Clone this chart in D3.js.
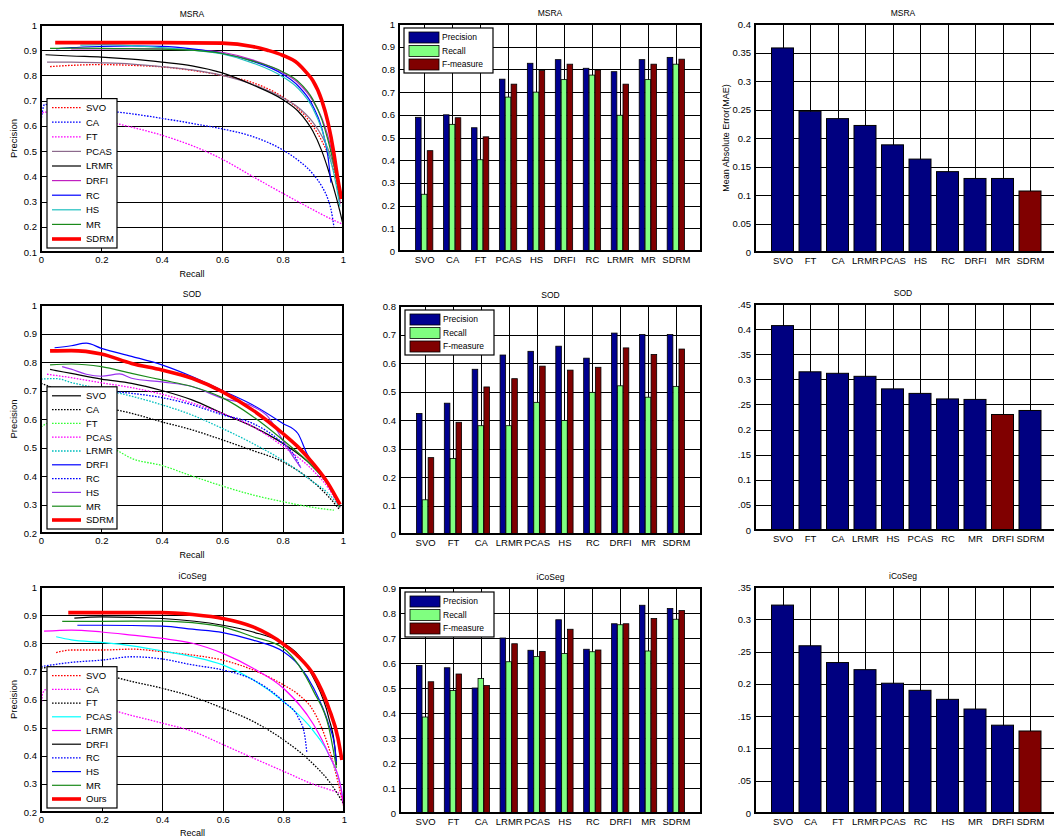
<!DOCTYPE html>
<html>
<head>
<meta charset="utf-8">
<script src="https://cdn.jsdelivr.net/npm/d3@7/dist/d3.min.js"></script>
<style>
body { margin: 0; background: #fff; }
text { font-family: "Liberation Sans", Arial, Helvetica, sans-serif; fill: #000; }
</style>
</head>
<body>
<svg id="fig" width="1054" height="838"></svg>
<script>

//==================================== data ====================================

// PR curves, [recall, precision] pairs
var msraNames = ["SVO", "CA", "FT", "PCAS", "LRMR", "DRFI", "RC", "HS", "MR", "SDRM"];
var msraSVO  = [[0.03,0.835],[0.1,0.84],[0.2,0.843],[0.3,0.84],[0.4,0.834],[0.5,0.82],[0.6,0.80],[0.7,0.772],[0.8,0.715],[0.85,0.67],[0.9,0.60],[0.93,0.54],[0.95,0.49],[0.97,0.42],[0.98,0.37],[0.99,0.29]];
var msraCA   = [[0.0,0.62],[0.005,0.66],[0.012,0.685],[0.05,0.68],[0.1,0.675],[0.2,0.662],[0.3,0.648],[0.4,0.63],[0.5,0.61],[0.6,0.588],[0.7,0.558],[0.8,0.505],[0.85,0.465],[0.9,0.41],[0.93,0.36],[0.95,0.31],[0.96,0.27],[0.97,0.2]];
var msraFT   = [[0.0,0.64],[0.01,0.655],[0.1,0.64],[0.2,0.622],[0.3,0.595],[0.4,0.563],[0.5,0.522],[0.6,0.468],[0.7,0.40],[0.8,0.333],[0.9,0.268],[0.95,0.237],[0.99,0.215],[1.0,0.21]];
var msraPCAS = [[0.02,0.853],[0.1,0.853],[0.2,0.85],[0.3,0.845],[0.4,0.835],[0.5,0.822],[0.6,0.80],[0.7,0.765],[0.8,0.712],[0.85,0.675],[0.9,0.615],[0.93,0.56],[0.95,0.51],[0.97,0.44],[0.98,0.39],[0.99,0.30]];
var msraLRMR = [[0.015,0.882],[0.1,0.877],[0.2,0.873],[0.3,0.865],[0.4,0.853],[0.5,0.838],[0.6,0.81],[0.7,0.763],[0.8,0.705],[0.85,0.66],[0.88,0.617],[0.9,0.58],[0.93,0.5],[0.95,0.43],[0.97,0.35],[0.99,0.26],[1.0,0.21]];
var msraDRFI = [[0.1,0.905],[0.2,0.905],[0.3,0.905],[0.4,0.905],[0.5,0.902],[0.6,0.892],[0.7,0.862],[0.8,0.812],[0.85,0.772],[0.9,0.70],[0.93,0.63],[0.95,0.56],[0.97,0.46],[0.98,0.39],[0.99,0.29]];
var msraRC   = [[0.05,0.905],[0.1,0.91],[0.2,0.915],[0.3,0.917],[0.4,0.915],[0.5,0.905],[0.6,0.887],[0.7,0.857],[0.8,0.805],[0.85,0.76],[0.9,0.68],[0.93,0.59],[0.95,0.48],[0.96,0.375]];
var msraHS   = [[0.13,0.92],[0.2,0.922],[0.3,0.918],[0.4,0.91],[0.5,0.9],[0.6,0.885],[0.7,0.85],[0.8,0.795],[0.85,0.75],[0.9,0.67],[0.93,0.585],[0.95,0.50],[0.97,0.41],[0.99,0.28]];
var msraMR   = [[0.03,0.907],[0.1,0.908],[0.2,0.907],[0.3,0.906],[0.4,0.904],[0.5,0.9],[0.6,0.887],[0.7,0.858],[0.8,0.815],[0.85,0.778],[0.9,0.705],[0.93,0.625],[0.95,0.545],[0.97,0.445],[0.99,0.31]];
var msraSDRM = [[0.047,0.93],[0.2,0.93],[0.4,0.93],[0.6,0.928],[0.7,0.915],[0.75,0.9],[0.8,0.88],[0.85,0.848],[0.88,0.81],[0.9,0.78],[0.93,0.70],[0.95,0.615],[0.97,0.49],[0.98,0.41],[0.995,0.31]];

var sodNames = ["SVO", "CA", "FT", "PCAS", "LRMR", "DRFI", "RC", "HS", "MR", "SDRM"];
var sodSVO  = [[0.03,0.774],[0.05,0.77],[0.1,0.76],[0.2,0.74],[0.3,0.725],[0.4,0.70],[0.5,0.667],[0.6,0.62],[0.7,0.574],[0.8,0.515],[0.9,0.433],[0.95,0.37],[0.99,0.29]];
var sodCA   = [[0.0,0.725],[0.05,0.705],[0.1,0.68],[0.2,0.644],[0.3,0.62],[0.4,0.59],[0.5,0.562],[0.6,0.527],[0.7,0.49],[0.8,0.45],[0.9,0.38],[0.95,0.33],[0.99,0.28]];
var sodFT   = [[0.0,0.572],[0.02,0.585],[0.05,0.592],[0.1,0.56],[0.2,0.51],[0.25,0.49],[0.3,0.462],[0.4,0.437],[0.5,0.40],[0.6,0.365],[0.7,0.334],[0.8,0.31],[0.9,0.29],[0.97,0.28]];
var sodPCAS = [[0.02,0.757],[0.1,0.745],[0.2,0.727],[0.3,0.71],[0.4,0.687],[0.5,0.656],[0.6,0.62],[0.7,0.574],[0.8,0.505],[0.9,0.42],[0.95,0.36],[0.99,0.29]];
var sodLRMR = [[0.0,0.74],[0.05,0.742],[0.1,0.728],[0.2,0.705],[0.3,0.68],[0.4,0.65],[0.5,0.614],[0.6,0.567],[0.7,0.515],[0.8,0.455],[0.9,0.38],[0.95,0.34],[0.99,0.29]];
var sodDRFI = [[0.045,0.85],[0.1,0.857],[0.15,0.866],[0.2,0.848],[0.3,0.82],[0.4,0.79],[0.5,0.749],[0.6,0.70],[0.7,0.65],[0.8,0.585],[0.85,0.55],[0.88,0.48],[0.935,0.398],[0.99,0.3]];
var sodRC   = [[0.2,0.70],[0.3,0.69],[0.4,0.675],[0.5,0.65],[0.6,0.615],[0.7,0.585],[0.8,0.515],[0.84,0.47],[0.86,0.428]];
var sodHS   = [[0.07,0.784],[0.1,0.775],[0.15,0.757],[0.2,0.75],[0.26,0.758],[0.3,0.743],[0.4,0.73],[0.5,0.714],[0.6,0.673],[0.7,0.645],[0.75,0.61],[0.8,0.527],[0.84,0.46],[0.86,0.43]];
var sodMR   = [[0.03,0.79],[0.1,0.793],[0.2,0.784],[0.3,0.76],[0.4,0.737],[0.5,0.714],[0.6,0.675],[0.7,0.61],[0.8,0.527],[0.9,0.433],[0.95,0.37],[0.99,0.29]];
var sodSDRM = [[0.03,0.839],[0.1,0.84],[0.2,0.828],[0.3,0.795],[0.4,0.772],[0.5,0.743],[0.6,0.696],[0.7,0.632],[0.8,0.55],[0.85,0.503],[0.9,0.445],[0.95,0.375],[0.99,0.30]];

var icoNames = ["SVO", "CA", "FT", "PCAS", "LRMR", "DRFI", "RC", "HS", "MR", "Ours"];
var icoSVO  = [[0.05,0.767],[0.1,0.776],[0.2,0.776],[0.3,0.779],[0.4,0.77],[0.5,0.758],[0.6,0.74],[0.7,0.705],[0.8,0.652],[0.85,0.617],[0.9,0.558],[0.95,0.428],[0.99,0.262],[1.0,0.215]];
var icoCA   = [[0.0,0.56],[0.005,0.62],[0.015,0.635],[0.1,0.61],[0.2,0.575],[0.25,0.558],[0.4,0.516],[0.5,0.487],[0.6,0.44],[0.7,0.392],[0.8,0.345],[0.9,0.298],[0.95,0.28],[0.99,0.262],[1.0,0.215]];
var icoFT   = [[0.0,0.712],[0.05,0.715],[0.1,0.705],[0.2,0.69],[0.3,0.664],[0.4,0.64],[0.5,0.61],[0.6,0.569],[0.7,0.522],[0.8,0.457],[0.9,0.369],[0.95,0.31],[1.0,0.227]];
var icoPCAS = [[0.05,0.823],[0.1,0.812],[0.2,0.803],[0.3,0.791],[0.4,0.773],[0.5,0.752],[0.6,0.723],[0.7,0.67],[0.8,0.593],[0.9,0.487],[0.95,0.404],[0.99,0.286],[1.0,0.227]];
var icoLRMR = [[0.01,0.843],[0.1,0.847],[0.2,0.84],[0.3,0.829],[0.4,0.817],[0.5,0.80],[0.6,0.764],[0.7,0.711],[0.8,0.64],[0.9,0.51],[0.95,0.404],[0.99,0.286],[1.0,0.215]];
var icoDRFI = [[0.11,0.889],[0.2,0.894],[0.4,0.888],[0.6,0.864],[0.7,0.84],[0.8,0.80],[0.85,0.758],[0.9,0.676],[0.95,0.534],[0.97,0.428],[0.975,0.367]];
var icoRC   = [[0.0,0.717],[0.1,0.732],[0.2,0.74],[0.3,0.752],[0.4,0.744],[0.5,0.723],[0.6,0.705],[0.7,0.67],[0.8,0.593],[0.85,0.534],[0.87,0.475],[0.877,0.414]];
var icoHS   = [[0.12,0.864],[0.2,0.864],[0.4,0.861],[0.5,0.85],[0.6,0.838],[0.7,0.811],[0.8,0.77],[0.85,0.723],[0.9,0.64],[0.95,0.51],[0.97,0.428],[0.975,0.38]];
var icoMR   = [[0.07,0.878],[0.2,0.878],[0.4,0.879],[0.5,0.873],[0.6,0.858],[0.7,0.823],[0.8,0.782],[0.85,0.723],[0.9,0.628],[0.95,0.50],[0.975,0.357]];
var icoOurs = [[0.09,0.909],[0.2,0.909],[0.4,0.909],[0.5,0.902],[0.6,0.888],[0.7,0.858],[0.8,0.797],[0.85,0.752],[0.9,0.687],[0.95,0.569],[0.98,0.463],[0.993,0.385]];

// precision / recall / F-measure bars
var msraBarCats = ["SVO", "CA", "FT", "PCAS", "HS", "DRFI", "RC", "LRMR", "MR", "SDRM"];
var msraPrec = [0.589, 0.600, 0.543, 0.757, 0.827, 0.843, 0.805, 0.790, 0.843, 0.853];
var msraRec  = [0.250, 0.558, 0.402, 0.678, 0.700, 0.755, 0.775, 0.598, 0.755, 0.823];
var msraF    = [0.442, 0.587, 0.503, 0.735, 0.795, 0.823, 0.797, 0.735, 0.823, 0.845];

var sodBarCats = ["SVO", "FT", "CA", "LRMR", "PCAS", "HS", "RC", "DRFI", "MR", "SDRM"];
var sodPrec = [0.423, 0.459, 0.578, 0.628, 0.641, 0.659, 0.617, 0.705, 0.700, 0.700];
var sodRec  = [0.120, 0.265, 0.380, 0.380, 0.462, 0.398, 0.497, 0.520, 0.480, 0.518];
var sodF    = [0.268, 0.392, 0.516, 0.545, 0.589, 0.575, 0.585, 0.653, 0.630, 0.649];

var icoBarCats = ["SVO", "FT", "CA", "LRMR", "PCAS", "HS", "RC", "DRFI", "MR", "SDRM"];
var icoPrec = [0.590, 0.581, 0.500, 0.700, 0.651, 0.773, 0.655, 0.757, 0.831, 0.818];
var icoRec  = [0.384, 0.490, 0.538, 0.605, 0.626, 0.638, 0.645, 0.753, 0.648, 0.775];
var icoF    = [0.525, 0.556, 0.510, 0.677, 0.646, 0.735, 0.652, 0.757, 0.778, 0.810];

// mean absolute error
var msraMaeCats = ["SVO", "FT", "CA", "LRMR", "PCAS", "HS", "RC", "DRFI", "MR", "SDRM"];
var msraMae = [0.358, 0.247, 0.234, 0.222, 0.188, 0.163, 0.141, 0.129, 0.129, 0.107];
var sodMaeCats = ["SVO", "FT", "CA", "LRMR", "HS", "PCAS", "RC", "MR", "DRFI", "SDRM"];
var sodMae = [0.407, 0.315, 0.312, 0.306, 0.281, 0.272, 0.261, 0.260, 0.230, 0.238];
var icoMaeCats = ["SVO", "CA", "FT", "LRMR", "PCAS", "RC", "HS", "MR", "DRFI", "SDRM"];
var icoMae = [0.322, 0.259, 0.233, 0.222, 0.201, 0.190, 0.176, 0.161, 0.136, 0.127];

//==================================== styles ==================================

// c: colour, d: dotted, w: width
var msraStyle = [{c:"#ff0000",d:1},{c:"#0000ff",d:1},{c:"#ff00ff",d:1},{c:"#8c6a8c"},{c:"#000000"},
                 {c:"#c020c0"},{c:"#0000ff"},{c:"#20c0c0"},{c:"#1a8a1a"},{c:"#ff0000",w:3.6}];
var sodStyle  = [{c:"#000000"},{c:"#000000",d:1},{c:"#33ff33",d:1},{c:"#ff00ff",d:1},{c:"#00bfbf",d:1},
                 {c:"#0000ff"},{c:"#0000ff",d:1},{c:"#9933ee"},{c:"#1a8a1a"},{c:"#ff0000",w:3.6}];
var icoStyle  = [{c:"#ff0000",d:1},{c:"#ff00ff",d:1},{c:"#000000",d:1},{c:"#00ffff"},{c:"#ff00ff"},
                 {c:"#000000"},{c:"#0000ff",d:1},{c:"#0000ff"},{c:"#1a8a1a"},{c:"#ff0000",w:3.6}];

var barColors = ["#000090", "#80ff80", "#800000"];
var barLabels = ["Precision", "Recall", "F-measure"];

//==================================== drawing =================================

var svg = d3.select("#fig");
var defs = svg.append("defs");

var fmt = function(d){ return String(+d.toFixed(2)); };

var styleAxis = function(g, fs){
    g.select(".domain").remove();
    g.selectAll(".tick line").attr("stroke", "#000").attr("stroke-width", 1)
        .attr("shape-rendering", "crispEdges");
    g.selectAll(".tick text").style("font-size", fs + "px").attr("fill", "#000");
};

var addClip = function(id, x, y, w, h){
    defs.append("clipPath").attr("id", id).append("rect")
        .attr("x", x).attr("y", y).attr("width", w).attr("height", h);
};

var frame = function(g, p){
    g.append("rect").attr("x", p.x0).attr("y", p.y0).attr("width", p.x1 - p.x0).attr("height", p.y1 - p.y0)
        .attr("fill", "none").attr("stroke", "#000").attr("stroke-width", 1.2)
        .attr("shape-rendering", "crispEdges");
};

var drawPR = function(p){
    var g = svg.append("g");
    var x = d3.scaleLinear().domain([0, 1]).range([p.x0, p.x1]);
    var y = d3.scaleLinear().domain([p.yMin, 1]).range([p.y1, p.y0]);
    var h = p.y1 - p.y0, w = p.x1 - p.x0;

    // grid + ticks
    g.append("g").attr("transform", "translate(0," + p.y1 + ")")
        .call(d3.axisBottom(x).tickValues(d3.range(0, 1.0001, 0.2)).tickSize(-h).tickPadding(4).tickFormat(fmt))
        .call(styleAxis, 9.5);
    g.append("g").attr("transform", "translate(" + p.x0 + ",0)")
        .call(d3.axisLeft(y).tickValues(d3.range(p.yMin, 1.0001, 0.1)).tickSize(-w).tickPadding(4).tickFormat(fmt))
        .call(styleAxis, 9.5);

    // curves
    addClip("clip" + p.id, p.x0, p.y0, w, h);
    var line = d3.line().x(function(d){ return x(d[0]); }).y(function(d){ return y(d[1]); })
        .curve(d3.curveMonotoneX);
    var cg = g.append("g").attr("clip-path", "url(#clip" + p.id + ")");
    p.curves.forEach(function(c, i){
        var s = p.styles[i];
        cg.append("path").attr("d", line(c)).attr("fill", "none")
            .attr("stroke", s.c).attr("stroke-width", s.w || (s.d ? 1.3 : 1.2))
            .attr("stroke-dasharray", s.d ? "1.6,1.4" : null)
            .attr("stroke-linejoin", "round");
    });

    frame(g, p);

    // legend
    var lh = p.step * 9 + 18;
    var lx = p.x0 + 6, ly = p.y1 - 4 - lh;
    var lg = g.append("g");
    lg.append("rect").attr("x", lx).attr("y", ly).attr("width", 70).attr("height", lh)
        .attr("fill", "#fff").attr("stroke", "#000").attr("stroke-width", 1.2);
    p.names.forEach(function(n, i){
        var s = p.styles[i];
        var yy = ly + 9 + i * p.step;
        lg.append("line").attr("x1", lx + 5).attr("x2", lx + 34).attr("y1", yy).attr("y2", yy)
            .attr("stroke", s.c).attr("stroke-width", s.w || (s.d ? 1.3 : 1.2))
            .attr("stroke-dasharray", s.d ? "1.6,1.4" : null);
        lg.append("text").attr("x", lx + 39).attr("y", yy).attr("dy", "0.35em")
            .style("font-size", "9.5px").text(n);
    });

    // labels
    g.append("text").attr("x", (p.x0 + p.x1) / 2).attr("y", p.y0 - 8)
        .attr("text-anchor", "middle").style("font-size", "8.5px").text(p.title);
    g.append("text").attr("x", (p.x0 + p.x1) / 2).attr("y", p.y1 + p.xlabDy)
        .attr("text-anchor", "middle").style("font-size", "9px").text("Recall");
    g.append("text").attr("transform", "translate(17," + ((p.y0 + p.y1) / 2) + ") rotate(-90)")
        .attr("text-anchor", "middle").style("font-size", "9.5px").text("Precision");
};

var drawBars = function(p){
    var g = svg.append("g");
    var x = d3.scaleLinear().domain([0.1, 10.9]).range([p.x0, p.x1]);
    var y = d3.scaleLinear().domain([0, p.yMax]).range([p.y1, p.y0]);
    var h = p.y1 - p.y0, w = p.x1 - p.x0;

    g.append("g").attr("transform", "translate(0," + p.y1 + ")")
        .call(d3.axisBottom(x).tickValues(d3.range(1, 11)).tickSize(-h).tickPadding(5)
            .tickFormat(function(d){ return p.cats[d - 1]; }))
        .call(styleAxis, 9.5);
    g.append("g").attr("transform", "translate(" + p.x0 + ",0)")
        .call(d3.axisLeft(y).tickValues(d3.range(0, p.yMax + 0.0001, 0.1)).tickSize(-w).tickPadding(4).tickFormat(fmt))
        .call(styleAxis, 9.5);

    var bw = x(0.2) - x(0);
    [p.prec, p.rec, p.f].forEach(function(vals, k){
        var off = (k - 1) * 0.21;
        g.append("g").selectAll("rect").data(vals).enter().append("rect")
            .attr("x", function(d, i){ return x(i + 1 + off) - bw / 2; })
            .attr("y", function(d){ return y(d); })
            .attr("width", bw)
            .attr("height", function(d){ return y(0) - y(d); })
            .attr("fill", barColors[k]).attr("stroke", "#000").attr("stroke-width", 0.8);
    });

    frame(g, p);

    // legend
    var lx = p.x0 + 5, ly = p.y0 + 4;
    var lg = g.append("g");
    lg.append("rect").attr("x", lx).attr("y", ly).attr("width", 89).attr("height", 45)
        .attr("fill", "#fff").attr("stroke", "#000").attr("stroke-width", 1.2);
    barLabels.forEach(function(n, i){
        var yy = ly + 4 + i * 13.5;
        lg.append("rect").attr("x", lx + 5).attr("y", yy).attr("width", 30).attr("height", 11)
            .attr("fill", barColors[i]).attr("stroke", "#000").attr("stroke-width", 0.8);
        lg.append("text").attr("x", lx + 38).attr("y", yy + 5.5).attr("dy", "0.35em")
            .style("font-size", "8.5px").text(n);
    });

    g.append("text").attr("x", (p.x0 + p.x1) / 2).attr("y", p.y0 - 8)
        .attr("text-anchor", "middle").style("font-size", "8.5px").text(p.title);
};

var drawMAE = function(p){
    var g = svg.append("g");
    if(p.clipLeft){
        addClip("mclip" + p.id, p.clipLeft, p.y0 - 30, 1054 - p.clipLeft, p.y1 - p.y0 + 60);
        g.attr("clip-path", "url(#mclip" + p.id + ")");
    }
    var x = d3.scaleLinear().domain([0, 11]).range([p.x0, p.x1]);
    var y = d3.scaleLinear().domain([0, p.yMax]).range([p.y1, p.y0]);
    var h = p.y1 - p.y0, w = p.x1 - p.x0;

    g.append("g").attr("transform", "translate(0," + p.y1 + ")")
        .call(d3.axisBottom(x).tickValues(d3.range(1, 11)).tickSize(-h).tickPadding(5)
            .tickFormat(function(d){ return p.cats[d - 1]; }))
        .call(styleAxis, 9.5);
    g.append("g").attr("transform", "translate(" + p.x0 + ",0)")
        .call(d3.axisLeft(y).tickValues(d3.range(0, p.yMax + 0.0001, 0.05)).tickSize(-w).tickPadding(4).tickFormat(fmt))
        .call(styleAxis, 9.5);

    var bw = x(0.8) - x(0);
    g.append("g").selectAll("rect").data(p.vals).enter().append("rect")
        .attr("x", function(d, i){ return x(i + 1) - bw / 2; })
        .attr("y", function(d){ return y(d); })
        .attr("width", bw)
        .attr("height", function(d){ return y(0) - y(d); })
        .attr("fill", function(d, i){ return i === p.best ? "#800000" : "#000080"; })
        .attr("stroke", "#000").attr("stroke-width", 1);

    frame(g, p);

    g.append("text").attr("x", 903).attr("y", p.y0 - 8)
        .attr("text-anchor", "middle").style("font-size", "8.5px").text(p.title);
    if(p.ylabel){
        g.append("text").attr("transform", "translate(729," + ((p.y0 + p.y1) / 2) + ") rotate(-90)")
            .attr("text-anchor", "middle").style("font-size", "9px").text(p.ylabel);
    }
};

//==================================== layout ==================================

drawPR({id: 1, title: "MSRA", x0: 41, x1: 343, y0: 25, y1: 252, yMin: 0.1, step: 14.6, xlabDy: 25,
        names: msraNames, styles: msraStyle,
        curves: [msraSVO, msraCA, msraFT, msraPCAS, msraLRMR, msraDRFI, msraRC, msraHS, msraMR, msraSDRM]});
drawPR({id: 2, title: "SOD", x0: 41, x1: 343, y0: 305, y1: 533, yMin: 0.2, step: 13.8, xlabDy: 25,
        names: sodNames, styles: sodStyle,
        curves: [sodSVO, sodCA, sodFT, sodPCAS, sodLRMR, sodDRFI, sodRC, sodHS, sodMR, sodSDRM]});
drawPR({id: 3, title: "iCoSeg", x0: 41, x1: 344, y0: 587, y1: 812, yMin: 0.2, step: 13.7, xlabDy: 24,
        names: icoNames, styles: icoStyle,
        curves: [icoSVO, icoCA, icoFT, icoPCAS, icoLRMR, icoDRFI, icoRC, icoHS, icoMR, icoOurs]});

drawBars({title: "MSRA", x0: 399, x1: 701, y0: 24, y1: 251, yMax: 1.0,
          cats: msraBarCats, prec: msraPrec, rec: msraRec, f: msraF});
drawBars({title: "SOD", x0: 400, x1: 701, y0: 306, y1: 534, yMax: 0.8,
          cats: sodBarCats, prec: sodPrec, rec: sodRec, f: sodF});
drawBars({title: "iCoSeg", x0: 400, x1: 701, y0: 588, y1: 813, yMax: 0.9,
          cats: icoBarCats, prec: icoPrec, rec: icoRec, f: icoF});

drawMAE({id: 1, title: "MSRA", x0: 755, x1: 1057.5, y0: 24, y1: 252, yMax: 0.4,
         cats: msraMaeCats, vals: msraMae, best: 9, ylabel: "Mean Absolute Error(MAE)"});
drawMAE({id: 2, title: "SOD", x0: 755, x1: 1057.5, y0: 304, y1: 530, yMax: 0.45,
         cats: sodMaeCats, vals: sodMae, best: 8, clipLeft: 738});
drawMAE({id: 3, title: "iCoSeg", x0: 755, x1: 1057.5, y0: 587, y1: 813, yMax: 0.35,
         cats: icoMaeCats, vals: icoMae, best: 9, clipLeft: 738});

</script>
</body>
</html>
